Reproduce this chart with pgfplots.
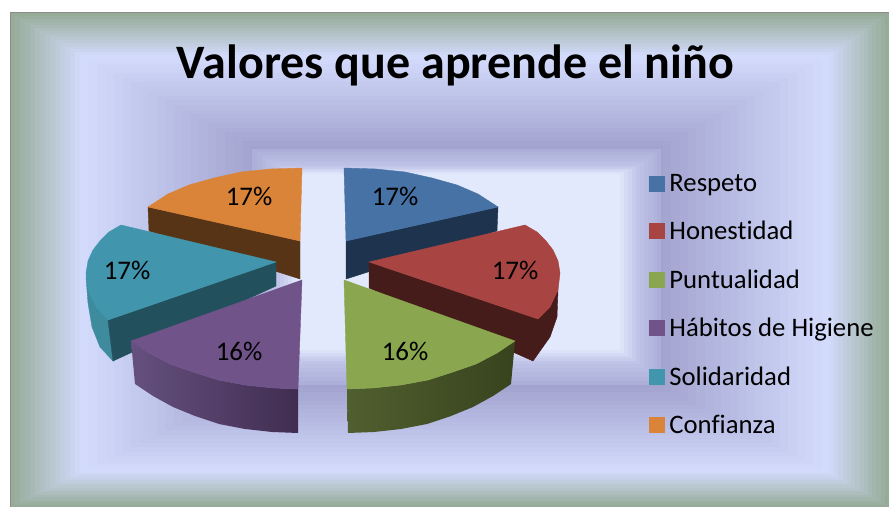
\documentclass[border=0pt]{standalone}
\usepackage{pgfplots}
\pgfplotsset{compat=1.18}
\usepackage{fontspec}
\setmainfont[Ligatures=NoCommon]{Carlito}
\definecolor{bgGreen}{HTML}{96AC98}
\definecolor{bgLight}{HTML}{D3DBFC}
\definecolor{bgDark}{HTML}{A2A3CF}
\definecolor{bgStep}{HTML}{ACAFD8}
\definecolor{bgMid}{HTML}{C0C4E8}
\definecolor{bgCenter}{HTML}{E3E9FC}
\definecolor{cBlue}{HTML}{4672A6}
\definecolor{cBlueS}{HTML}{1E344E}
\definecolor{cRed}{HTML}{A84442}
\definecolor{cRedS}{HTML}{461C1A}
\definecolor{cGreen}{HTML}{8AA64E}
\definecolor{cGreenA}{HTML}{505F2F}
\definecolor{cGreenB}{HTML}{38431D}
\definecolor{cPurple}{HTML}{6F5389}
\definecolor{cPurpleA}{HTML}{65507F}
\definecolor{cPurpleB}{HTML}{402D50}
\definecolor{cTeal}{HTML}{4195AC}
\definecolor{cTealO}{HTML}{3E8B9E}
\definecolor{cTealS}{HTML}{22505D}
\definecolor{cOrange}{HTML}{D98439}
\definecolor{cOrangeS}{HTML}{583417}
\newcommand\framesc[4]{%
 \foreach \la/\ta/\ra/\ba/\lb/\tb/\rb/\bb in {#1}{%
  \foreach \i in {0,...,#4}{%
   \pgfmathsetmacro\ff{\i/#4}%
   \pgfmathsetmacro\xa{\la+(\lb-\la)*\ff}%
   \pgfmathsetmacro\ya{507-(\ta+(\tb-\ta)*\ff)}%
   \pgfmathsetmacro\xb{\ra+(\rb-\ra)*\ff}%
   \pgfmathsetmacro\yb{507-(\ba+(\bb-\ba)*\ff)}%
   \pgfmathsetmacro\pp{100*\ff}%
   \fill[#3!\pp!#2] (\xa,\ya) rectangle (\xb,\yb);%
  }%
 }%
}
\pgfplotsset{
 swatch/.style={legend image code/.code={\fill[#1] (0bp,-7.5bp) rectangle (15bp,7.5bp);}},
}
\begin{document}
\begin{tikzpicture}[x=1bp,y=1bp]
\path[use as bounding box,fill=white] (0,0) rectangle (889,507);
\framesc{10/13/889/507/80/55/830/473}{bgGreen}{bgLight}{14}
\framesc{80/55/830/473/250/146/663/388}{bgLight}{bgDark}{20}
\framesc{252/149/661/385/276/165/640/364}{bgStep}{bgMid}{5}
\framesc{276/165/640/364/296/174/620/350}{bgMid}{bgCenter}{5}
\draw[color=gray!90,line width=1bp] (10,0) -- (10,494) -- (889,494);
\begin{axis}[
 at={(0,0)},anchor=south west,
 scale only axis,width=889bp,height=507bp,
 hide axis,xmin=0,xmax=889,ymin=0,ymax=507,y dir=reverse,
 legend cell align=left,
 legend style={at={(axis cs:649,172)},anchor=north west,draw=none,fill=none,
   inner sep=0pt,outer sep=0pt,row sep=24.5bp,column sep=3bp,
   font=\fontsize{26.8}{26.8}\selectfont},
]
\addlegendimage{swatch=cBlue}\addlegendentry{Respeto}
\addlegendimage{swatch=cRed}\addlegendentry{Honestidad}
\addlegendimage{swatch=cGreen}\addlegendentry{Puntualidad}
\addlegendimage{swatch=cPurple}\addlegendentry{Hábitos de Higiene}
\addlegendimage{swatch=cTeal}\addlegendentry{Solidaridad}
\addlegendimage{swatch=cOrange}\addlegendentry{Confianza}
% Respeto
\addplot[forget plot,fill=cBlueS,draw=cBlueS] coordinates {(346,241)(498,207)(497,231)(346,279)} --cycle;
\addplot[forget plot,fill=cBlue,draw=cBlue] coordinates {(346,241)(344,168)(376,169)(405,172)(432,178)(457,185)(478,194)(498,207)} --cycle;
% Confianza
\addplot[forget plot,fill=cOrangeS,draw=cOrangeS] coordinates {(300,241)(148,207)(149,231)(300,279)} --cycle;
\addplot[forget plot,fill=cOrange,draw=cOrange] coordinates {(300,241)(302,168)(270,169)(241,172)(214,178)(189,185)(168,194)(148,207)} --cycle;
% Honestidad
\addplot[forget plot,fill=cRedS,draw=cRedS] coordinates {(369,262)(538,319)(550,307)(558,290)(557,317)(550,337)(533,361)(369,288)} --cycle;
\addplot[forget plot,fill=cRed,draw=cRed] coordinates {(369,262)(525,225)(537,232)(546,241)(553,250)(558,261)(560,273)(558,290)(550,307)(538,319)} --cycle;
% Solidaridad
\addplot[forget plot,fill=cTealO,draw=cTealO] coordinates {(86,277)(88,303)(92,327)(100,347)(113,361)(108,320)} --cycle;
\addplot[forget plot,fill=cTealS,draw=cTealS] coordinates {(276,262)(108,320)(113,361)(276,286)} --cycle;
\addplot[forget plot,fill=cTeal,draw=cTeal] coordinates {(276,262)(121,225)(109,232)(100,241)(93,250)(88,261)(86,273)(88,290)(96,307)(108,320)} --cycle;
% Puntualidad
\addplot[forget plot,draw=none,left color=cGreenA,right color=cGreenB] coordinates {(347,389)(373,388)(401,385)(428,380)(453,372)(476,364)(497,353)(515,341)(511,384)(493,396)(473,407)(451,416)(427,424)(401,429)(374,432)(348,433)} --cycle;
\addplot[forget plot,fill=cGreen,draw=cGreen] coordinates {(344,280)(347,389)(373,388)(401,385)(428,380)(453,372)(476,364)(497,353)(515,341)} --cycle;
% Habitos
\addplot[forget plot,draw=none,left color=cPurpleA,right color=cPurpleB] coordinates {(298,389)(273,388)(245,385)(218,380)(193,372)(170,364)(149,353)(131,341)(135,384)(153,396)(173,407)(195,416)(219,424)(245,429)(272,432)(298,433)} --cycle;
\addplot[forget plot,fill=cPurple,draw=cPurple] coordinates {(302,280)(298,389)(273,388)(245,385)(218,380)(193,372)(170,364)(149,353)(131,341)} --cycle;
% labels
\node[font=\fontsize{27}{27}\selectfont] at (axis cs:395,196) {17\%};
\node[font=\fontsize{27}{27}\selectfont] at (axis cs:515,270) {17\%};
\node[font=\fontsize{27}{27}\selectfont] at (axis cs:405,351) {16\%};
\node[font=\fontsize{27}{27}\selectfont] at (axis cs:239,351) {16\%};
\node[font=\fontsize{27}{27}\selectfont] at (axis cs:127,270) {17\%};
\node[font=\fontsize{27}{27}\selectfont] at (axis cs:249,196) {17\%};
\node[font=\bfseries\fontsize{48.2}{48.2}\selectfont] at (axis cs:455.5,65) {Valores que aprende el niño};
\end{axis}
\end{tikzpicture}
\end{document}
